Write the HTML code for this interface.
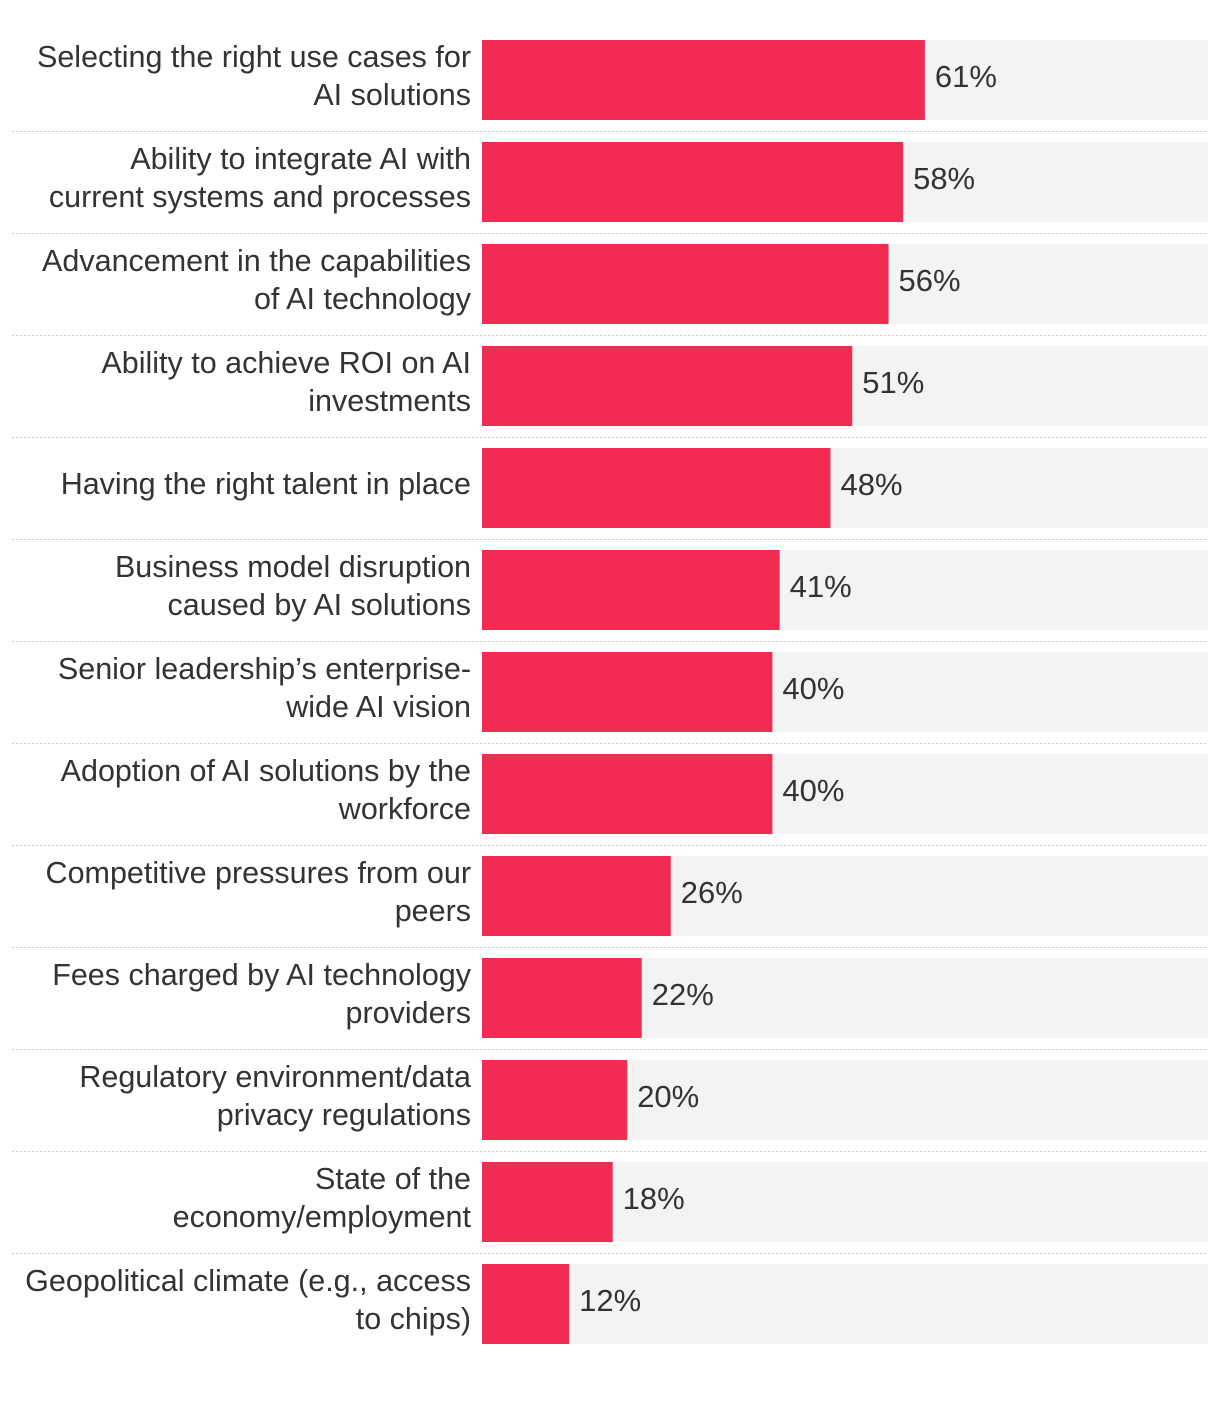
<!DOCTYPE html>
<html><head><meta charset="utf-8"><style>
body{margin:0;background:#fff;width:1220px;height:1404px;overflow:hidden}
svg{display:block}
text{font-family:"Liberation Sans",sans-serif}
</style></head><body>
<svg id="chart" width="1220" height="1404" xmlns="http://www.w3.org/2000/svg"></svg>
<script>
const categories = [
 ["Selecting the right use cases for","AI solutions"],
 ["Ability to integrate AI with","current systems and processes"],
 ["Advancement in the capabilities","of AI technology"],
 ["Ability to achieve ROI on AI","investments"],
 ["Having the right talent in place"],
 ["Business model disruption","caused by AI solutions"],
 ["Senior leadership’s enterprise-","wide AI vision"],
 ["Adoption of AI solutions by the","workforce"],
 ["Competitive pressures from our","peers"],
 ["Fees charged by AI technology","providers"],
 ["Regulatory environment/data","privacy regulations"],
 ["State of the","economy/employment"],
 ["Geopolitical climate (e.g., access","to chips)"]
];
const values = [61,58,56,51,48,41,40,40,26,22,20,18,12];
const valueLabels = ["61%","58%","56%","51%","48%","41%","40%","40%","26%","22%","20%","18%","12%"];

const svg = document.getElementById('chart');
const NS = 'http://www.w3.org/2000/svg';
const x0 = 482, xEnd = 1208, maxV = 100;
const xScale = v => x0 + v / maxV * (xEnd - x0);
const rowTop = i => 40 + i * 102;
const barH = 80;
function mk(tag, attrs){const e=document.createElementNS(NS,tag);for(const k in attrs)e.setAttribute(k,attrs[k]);svg.appendChild(e);return e;}

values.forEach((v,i)=>{
  const y = rowTop(i);
  const track = mk('rect',{x:x0,y:y,width:xEnd-x0,height:barH,fill:'#f3f3f3'});
  
  
  const bar = mk('rect',{x:x0,y:y,width:xScale(v)-x0,height:barH,fill:'#f22b52'});
  
  
  const vl = mk('text',{x:xScale(v)+10,y:y+barH/2+7,'font-size':31,fill:'#333'});
  vl.textContent = valueLabels[i];
  
  
  const lines = categories[i];
  const lh = 38;
  const startY = y + barH/2 + 6 - (lines.length-1)*lh/2;
  const lab = mk('text',{x:471,'text-anchor':'end','font-size':30.5,fill:'#333'});
  
  
  lines.forEach((t,j)=>{const ts=document.createElementNS(NS,'tspan');ts.setAttribute('x',471);ts.setAttribute('y',startY+j*lh);ts.textContent=t;lab.appendChild(ts);});
  if(i<values.length-1){
    const sep = mk('line',{x1:12,x2:1208,y1:y+barH+11.5,y2:y+barH+11.5,stroke:'#c8c8c8','stroke-width':1,'stroke-dasharray':'2,2'});
    
    
  }
});
</script>
</body></html>
